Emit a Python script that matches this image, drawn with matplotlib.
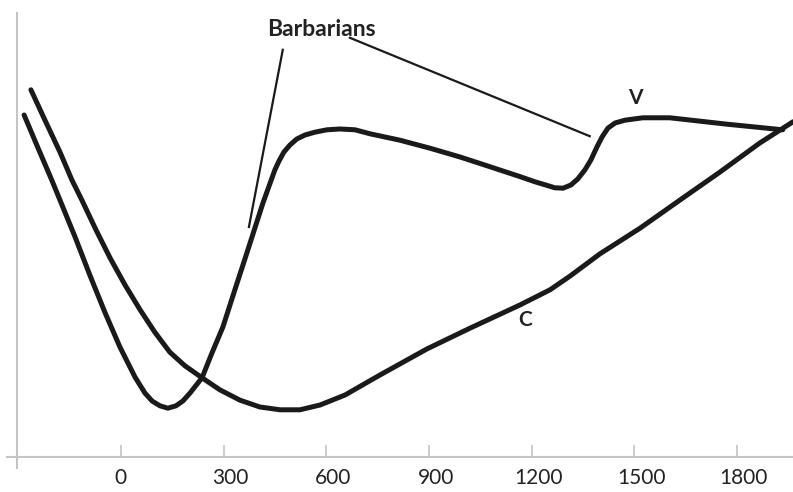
import matplotlib.pyplot as plt
from matplotlib.transforms import ScaledTranslation

plt.rcParams['font.family'] = ['Lato', 'DejaVu Sans']

# curve V (years, level)
v_x = [-283, -242, -202, -178, -134, -91, -47, -3, 41, 70, 91, 114, 137, 161,
       181, 202, 237, 266, 298, 333, 368, 415, 450, 462, 476, 494, 514, 538,
       567, 602, 640, 684, 728, 815, 903, 991, 1070, 1166, 1210, 1245, 1268,
       1292, 1315, 1335, 1356, 1373, 1391, 1406, 1423, 1444, 1473, 1525, 1604,
       1771, 1934]
v_y = [85.5, 77.2, 69.2, 64.2, 55, 45.5, 36.2, 27.5, 20, 16, 14, 12.8, 12.2,
       12.8, 14, 16, 19.8, 26, 32.5, 41.8, 51, 63.5, 71.8, 74, 76.2, 78, 79.5,
       80.5, 81.2, 81.8, 82, 81.8, 80.8, 79.2, 77.2, 75, 72.8, 70.1, 68.8,
       67.9, 67.3, 67.2, 68, 69.5, 71.8, 74.2, 77.5, 80, 82.2, 83.5, 84.2,
       84.8, 84.8, 83.2, 81.8]

# curve C
c_x = [-263, -222, -178, -143, -114, -73, -32, 12, 56, 99, 143, 187, 237, 289,
       348, 406, 465, 523, 582, 655, 757, 894, 1020, 1166, 1254, 1312, 1400,
       1517, 1633, 1750, 1867, 1964]
c_y = [91.8, 84.2, 76.2, 69.2, 64.2, 56.8, 49.8, 43, 36.8, 31.2, 26.2, 22.8,
       19.8, 16.8, 14.2, 12.5, 11.8, 11.8, 13, 15.5, 20.5, 27, 32.2, 38, 41.8,
       45.2, 50.8, 57.2, 64.2, 71.2, 78.5, 83.8]

# pointer lines for the "Barbarians" label
barb_line1_x = [473, 374]
barb_line1_y = [101.8, 57.5]
barb_line2_x = [669, 1370]
barb_line2_y = [104.8, 80.2]

xticks = [0, 300, 600, 900, 1200, 1500, 1800]

ink = '#1a1a1a'
grey = '#c4c4c4'

fig = plt.figure(figsize=(7.93, 4.92), dpi=100)
ax = fig.add_axes([0.0088, 0.0488, 0.9912, 0.9248])

ax.plot(v_x, v_y, color=ink, lw=3.6, solid_capstyle='round', solid_joinstyle='round')
ax.plot(c_x, c_y, color=ink, lw=3.6, solid_capstyle='round', solid_joinstyle='round')
ax.plot(barb_line1_x, barb_line1_y, color=ink, lw=1.6)
ax.plot(barb_line2_x, barb_line2_y, color=ink, lw=1.6)

ax.text(587, 106.8, 'Barbarians', fontsize=16.5, fontweight='bold', color='#222222',
        ha='center', va='center')
ax.text(1502, 89.8, 'V', fontsize=15, fontweight='bold', color='#222222',
        ha='center', va='center')
ax.text(1180, 34.2, 'C', fontsize=15, fontweight='bold', color='#222222',
        ha='center', va='center')

ax.set_xlim(-333, 1964)
ax.set_ylim(-2.75, 111)

for s in ['top', 'right']:
    ax.spines[s].set_visible(False)
ax.spines['bottom'].set_position(('data', 0))
ax.spines['left'].set_position(('data', -304))
for s in ['bottom', 'left']:
    ax.spines[s].set_color(grey)
    ax.spines[s].set_linewidth(1.5)

ax.set_xticks(xticks)
ax.set_xticklabels([str(t) for t in xticks])
ax.set_yticks([])
ax.tick_params(axis='x', direction='in', length=8.5, width=1.2, color=grey,
               pad=8, labelsize=15, labelcolor='#222222')

# labels in the reference sit a little right of their tick marks
for t, lab in zip(xticks, ax.get_xticklabels()):
    if t != 0:
        lab.set_transform(lab.get_transform() + ScaledTranslation(0.07, 0, fig.dpi_scale_trans))

fig.savefig('out.png', dpi=100)
